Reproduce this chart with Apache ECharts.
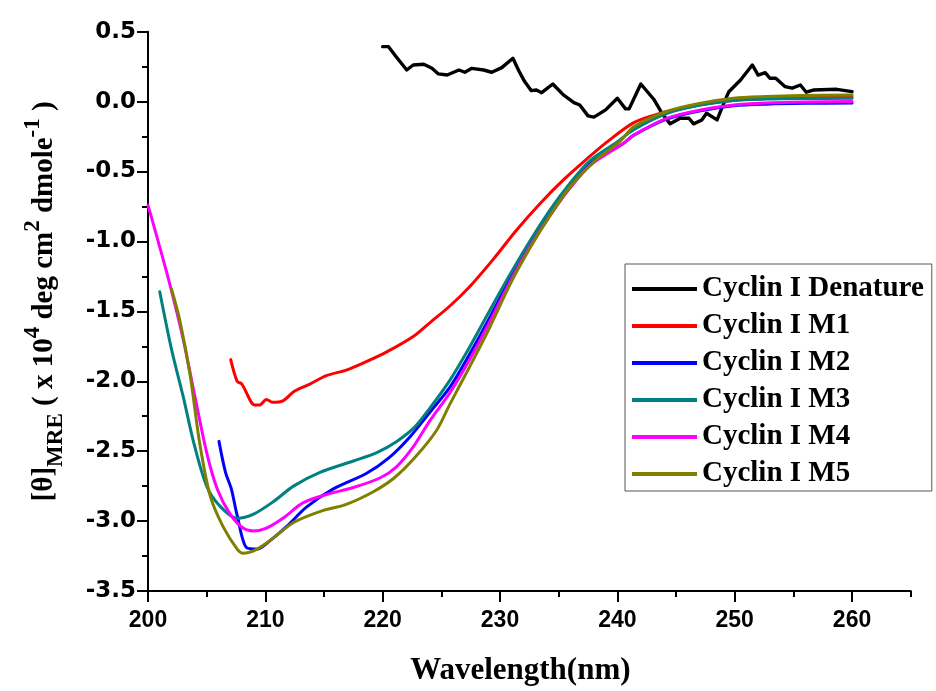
<!DOCTYPE html>
<html>
<head>
<meta charset="utf-8">
<script src="https://cdn.jsdelivr.net/npm/echarts@6/dist/echarts.min.js"></script>
<style>html,body{margin:0;padding:0;background:#fff}#c{width:936px;height:691px}</style>
</head>
<body>
<div id="c"></div>
<script>
// ---- data ----
const seriesNames = ['Cyclin I Denature', 'Cyclin I M1', 'Cyclin I M2', 'Cyclin I M3', 'Cyclin I M4', 'Cyclin I M5'];
const seriesColors = ['#000000', '#ff0000', '#0000ff', '#008080', '#ff00ff', '#808000'];

const xMajorTicks = [200, 210, 220, 230, 240, 250, 260];
const xMinorTicks = [205, 215, 225, 235, 245, 255, 265];

const denatX = [220.0, 220.5, 221.1, 222.05, 222.6, 223.5, 224.2, 224.75, 225.5, 226.5, 227.0, 227.6, 228.6, 229.3, 230.15, 231.1, 231.6, 232.1, 232.65, 233.1, 233.55, 234.5, 235.4, 236.3, 236.8, 237.5, 238.0, 239.0, 240.0, 240.7, 241.0, 242.0, 243.1, 243.8, 244.5, 245.35, 246.1, 246.5, 247.2, 247.6, 248.5, 248.9, 249.5, 250.5, 251.5, 252.0, 252.6, 253.0, 253.5, 254.3, 254.9, 255.6, 256.1, 256.7, 258.7, 260.0];
const denatY = [0.393, 0.393, 0.326, 0.226, 0.262, 0.267, 0.238, 0.198, 0.19, 0.226, 0.21, 0.238, 0.226, 0.21, 0.243, 0.31, 0.221, 0.143, 0.079, 0.083, 0.064, 0.126, 0.048, -0.007, -0.024, -0.102, -0.111, -0.059, 0.024, -0.052, -0.052, 0.126, 0.017, -0.083, -0.159, -0.119, -0.119, -0.159, -0.131, -0.083, -0.131, -0.047, 0.071, 0.155, 0.262, 0.19, 0.207, 0.167, 0.167, 0.107, 0.096, 0.119, 0.067, 0.083, 0.088, 0.071];

const m1X = [207.05, 207.6, 208.0, 209.1, 209.5, 210.1, 210.6, 211.5, 212.5, 213.8, 215.2, 216.9, 218.6, 220.35, 222.6, 224.04, 225.75, 227.45, 229.4, 231.4, 233.4, 235.4, 237.4, 239.1, 241.4, 243.6, 246.0, 248.0, 250.0, 252.0, 255.0, 260.0];
const m1Y = [-1.845, -2.0, -2.02, -2.17, -2.17, -2.13, -2.15, -2.14, -2.07, -2.02, -1.96, -1.92, -1.86, -1.79, -1.68, -1.58, -1.46, -1.32, -1.13, -0.92, -0.73, -0.56, -0.41, -0.29, -0.15, -0.085, -0.04, -0.01, 0.01, 0.02, 0.03, 0.035];

const m2X = [206.05, 206.6, 207.1, 207.6, 208.4, 209.3, 210.4, 211.8, 213.5, 215.8, 218.6, 220.5, 222.3, 224.04, 225.75, 227.45, 229.15, 230.9, 232.6, 234.3, 236.0, 237.7, 240.5, 241.4, 244.2, 247.1, 249.9, 252.7, 256.0, 260.0];
const m2Y = [-2.43, -2.65, -2.77, -2.96, -3.19, -3.20, -3.14, -3.04, -2.90, -2.77, -2.66, -2.55, -2.40, -2.22, -2.04, -1.80, -1.54, -1.26, -1.01, -0.79, -0.60, -0.44, -0.30, -0.24, -0.125, -0.065, -0.03, -0.018, -0.012, -0.01];

const m3X = [201.0, 202.0, 203.0, 203.9, 205.0, 206.1, 207.6, 209.0, 210.7, 212.4, 214.7, 217.5, 219.5, 221.2, 222.7, 224.04, 225.75, 227.45, 229.15, 230.9, 232.6, 234.3, 236.0, 237.7, 239.95, 241.4, 244.2, 247.1, 249.9, 252.7, 256.0, 260.0];
const m3Y = [-1.36, -1.77, -2.11, -2.44, -2.75, -2.89, -2.98, -2.95, -2.86, -2.75, -2.65, -2.57, -2.51, -2.43, -2.33, -2.19, -1.99, -1.75, -1.49, -1.23, -0.99, -0.77, -0.58, -0.42, -0.29, -0.2, -0.085, -0.025, 0.008, 0.018, 0.022, 0.024];

const m4X = [200.0, 201.0, 201.9, 203.0, 204.0, 205.0, 205.9, 207.0, 208.1, 209.0, 210.1, 211.5, 213.2, 215.2, 217.5, 219.8, 221.2, 222.6, 224.04, 225.75, 227.45, 229.15, 230.9, 232.6, 234.3, 236.0, 237.7, 240.5, 241.4, 244.2, 247.1, 249.9, 252.7, 256.0, 260.0];
const m4Y = [-0.74, -1.04, -1.32, -1.70, -2.11, -2.51, -2.77, -2.95, -3.05, -3.07, -3.05, -2.98, -2.87, -2.81, -2.76, -2.69, -2.61, -2.47, -2.28, -2.08, -1.84, -1.57, -1.28, -1.03, -0.81, -0.615, -0.455, -0.30, -0.24, -0.12, -0.06, -0.024, -0.01, -0.003, 0.0];

const m5X = [202.0, 202.7, 203.6, 204.4, 205.3, 206.4, 207.6, 208.1, 209.3, 210.7, 212.4, 214.7, 216.9, 219.2, 221.0, 222.8, 224.6, 225.75, 227.45, 229.15, 230.9, 232.6, 234.3, 236.0, 238.0, 240.2, 241.4, 244.2, 247.1, 249.9, 252.7, 255.6, 260.0];
const m5Y = [-1.34, -1.56, -1.96, -2.44, -2.82, -3.04, -3.20, -3.23, -3.20, -3.12, -3.01, -2.93, -2.88, -2.79, -2.69, -2.54, -2.35, -2.16, -1.89, -1.61, -1.30, -1.04, -0.81, -0.607, -0.43, -0.286, -0.18, -0.071, -0.012, 0.024, 0.036, 0.043, 0.048];

// ---- build ----
const xs = [denatX, m1X, m2X, m3X, m4X, m5X];
const ys = [denatY, m1Y, m2Y, m3Y, m4Y, m5Y];
const pairs = (x, y) => x.map((v, i) => [v, y[i]]);

const chart = echarts.init(document.getElementById('c'), null, {renderer: 'canvas'});
const serif = '"Liberation Serif", "Times New Roman", serif';
const sans = '"Liberation Sans", Arial, sans-serif';
const wide = '"DejaVu Sans", Verdana, sans-serif';

const series = seriesNames.map((n, i) => ({
  name: n,
  type: 'line',
  xAxisIndex: 0,
  data: pairs(xs[i], ys[i]),
  showSymbol: false,
  smooth: i === 0 ? false : 0.3,
  lineStyle: {color: seriesColors[i], width: i === 0 ? 3.4 : 3, join: 'round', cap: 'round'},
  itemStyle: {color: seriesColors[i]},
  z: 2 + i,
  animation: false
}));

const option = {
  animation: false,
  backgroundColor: '#ffffff',
  grid: {left: 148, right: 25.3, top: 31.7, bottom: 99.3, containLabel: false},
  legend: {
    orient: 'vertical',
    left: 625, top: 264,
    data: seriesNames.map(n => ({name: n, icon: 'rect'})),
    itemWidth: 65, itemHeight: 4,
    itemGap: 7,
    padding: [10, 8, 2, 7],
    borderColor: '#555', borderWidth: 1,
    textStyle: {fontFamily: serif, fontWeight: 'bold', fontSize: 29, color: '#000', lineHeight: 30},
    selectedMode: false
  },
  xAxis: [{
    type: 'value', min: 200, max: 265, interval: 10, position: 'bottom',
    name: 'Wavelength(nm)', nameLocation: 'middle', nameGap: 64,
    nameTextStyle: {fontFamily: serif, fontWeight: 'bold', fontSize: 31, color: '#000', padding: [0, 18, 0, 0]},
    axisLine: {show: true, onZero: false, lineStyle: {color: '#000', width: 2}},
    axisTick: {show: true, length: 11, customValues: xMajorTicks, lineStyle: {color: '#000', width: 2}},
    axisLabel: {customValues: xMajorTicks, margin: 18, fontFamily: sans, fontWeight: 'bold', fontSize: 23, color: '#000'},
    splitLine: {show: false}
  }, {
    type: 'value', min: 200, max: 265, interval: 10, position: 'bottom',
    axisLine: {show: false, onZero: false},
    axisTick: {show: true, length: 6, customValues: xMinorTicks, lineStyle: {color: '#000', width: 2}},
    axisLabel: {show: false},
    splitLine: {show: false}
  }],
  yAxis: {
    type: 'value', min: -3.5, max: 0.5, interval: 0.5,
    name: '{m|[θ]}{sub|MRE}{m| ( x 10}{sup|4}{m| deg cm}{sup|2}{m| dmole}{sup|-1}{m| )}',
    nameLocation: 'middle', nameRotate: 90, nameGap: 80,
    nameTextStyle: {
      fontFamily: serif, fontWeight: 'bold', fontSize: 29, color: '#000', padding: [0, 0, 0, 20],
      rich: {
        m: {fontFamily: serif, fontWeight: 'bold', fontSize: 29, lineHeight: 46, color: '#000'},
        sup: {fontFamily: serif, fontWeight: 'bold', fontSize: 23, lineHeight: 23, verticalAlign: 'top', color: '#000'},
        sub: {fontFamily: serif, fontWeight: 'bold', fontSize: 23, lineHeight: 23, verticalAlign: 'bottom', color: '#000'}
      }
    },
    axisLine: {show: true, onZero: false, lineStyle: {color: '#000', width: 2}},
    axisTick: {show: true, length: 11, lineStyle: {color: '#000', width: 2}},
    minorTick: {show: true, splitNumber: 2, length: 6, lineStyle: {color: '#000', width: 2}},
    axisLabel: {margin: 12, fontFamily: wide, fontWeight: 'bold', fontSize: 23, color: '#000',
      formatter: v => v.toFixed(1)},
    splitLine: {show: false}, minorSplitLine: {show: false}
  },
  series: series
};
chart.setOption(option);
</script>
</body>
</html>
